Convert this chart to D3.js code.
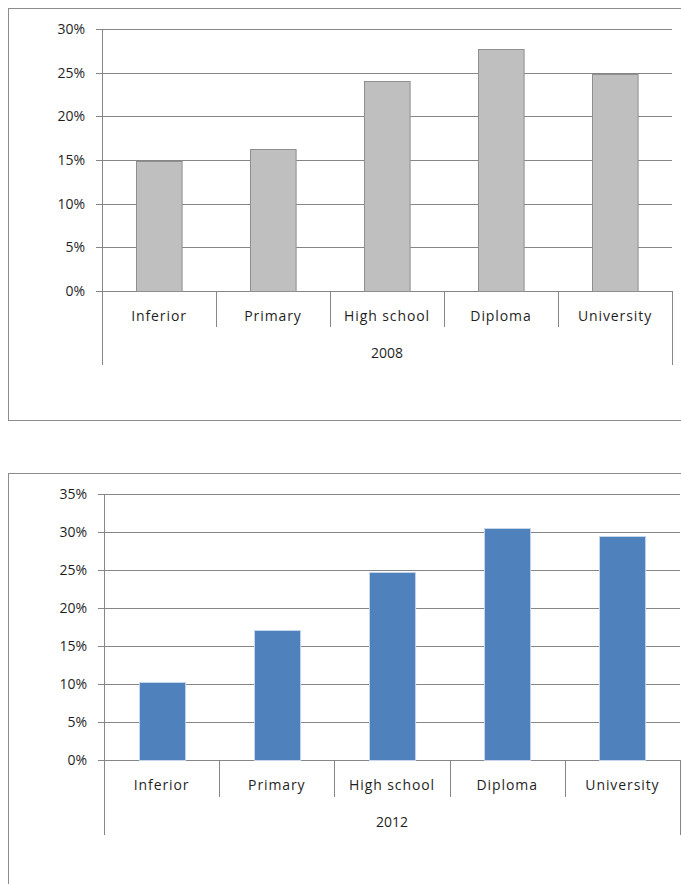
<!DOCTYPE html>
<html>
<head>
<meta charset="utf-8">
<script src="https://cdn.jsdelivr.net/npm/d3@7"></script>
<style>
body { margin: 0; background: #fff; }
text { font-family: "Open Sans", sans-serif; font-size: 14px; fill: #1f1f1f; }
text.xlab { letter-spacing: 0.9px; }
</style>
</head>
<body>
<div id="field"></div>
<script>
var categories = ["Inferior", "Primary", "High school", "Diploma", "University"]
var values2008 = [14.9, 16.3, 24.1, 27.7, 24.9]
var values2012 = [10.3, 17.1, 24.8, 30.5, 29.5]
var ticks2008 = [0, 5, 10, 15, 20, 25, 30]
var ticks2012 = [0, 5, 10, 15, 20, 25, 30, 35]

var width = 681
var height = 884
var svg = d3.select("div#field").append("svg")
           .attr("width", width)
           .attr("height", height)

var gridColor = "#868686"

function drawChart(opt){
	// outer chart border
	svg.append("rect")
	  .attr("x", opt.box[0] + 0.5)
	  .attr("y", opt.box[1] + 0.5)
	  .attr("width", opt.box[2])
	  .attr("height", opt.box[3])
	  .attr("fill", "none")
	  .attr("stroke", "#8c8c8c")

	var x = d3.scaleBand()
	  .domain(categories)
	  .range([opt.left, opt.right])
	  .paddingInner(0.6)
	  .paddingOuter(0.3)
	var xb = d3.scaleBand()
	  .domain(categories)
	  .range([opt.left, opt.right])
	var y = d3.scaleLinear()
	  .domain([0, d3.max(opt.ticks)])
	  .range([opt.bottom, opt.top])

	var g = svg.append("g")

	// gridlines + tick marks
	g.selectAll("line.grid")
	  .data(opt.ticks).enter()
	  .append("line")
	    .attr("x1", opt.left - 6)
	    .attr("x2", opt.right)
	    .attr("y1", d => Math.round(y(d)) + 0.5)
	    .attr("y2", d => Math.round(y(d)) + 0.5)
	    .attr("stroke", gridColor)

	g.selectAll("text.ylab")
	  .data(opt.ticks).enter()
	  .append("text")
	    .attr("x", opt.left - 17)
	    .attr("y", d => y(d))
	    .attr("dy", "0.35em")
	    .attr("text-anchor", "end")
	    .text(d => d + "%")

	// bars
	g.selectAll("rect.bar")
	  .data(opt.values).enter()
	  .append("rect")
	    .attr("x", (d, i) => Math.round(x(categories[i])) + 0.5)
	    .attr("y", d => Math.round(y(d)) + 0.5)
	    .attr("width", x.bandwidth())
	    .attr("height", d => Math.round(y(0)) - Math.round(y(d)))
	    .attr("fill", opt.fill)
	    .attr("stroke", opt.stroke)

	// y axis line
	g.append("line")
	  .attr("x1", opt.left + 0.5).attr("x2", opt.left + 0.5)
	  .attr("y1", opt.top).attr("y2", opt.bottom)
	  .attr("stroke", gridColor)

	// category separators
	var seps = categories.map(c => xb(c)).concat([opt.right])
	g.selectAll("line.sep")
	  .data(seps).enter()
	  .append("line")
	    .attr("x1", d => Math.round(d) + 0.5)
	    .attr("x2", d => Math.round(d) + 0.5)
	    .attr("y1", opt.bottom)
	    .attr("y2", (d, i) => (i == 0 || i == seps.length - 1) ? opt.bottom + opt.outerTick : opt.bottom + opt.innerTick)
	    .attr("stroke", gridColor)

	g.selectAll("text.xlab")
	  .data(categories).enter()
	  .append("text")
	    .classed("xlab", true)
	    .attr("x", d => xb(d) + xb.bandwidth() / 2)
	    .attr("y", opt.bottom + 25)
	    .attr("dy", "0.35em")
	    .attr("text-anchor", "middle")
	    .text(d => d)

	g.append("text")
	  .attr("x", (opt.left + opt.right) / 2)
	  .attr("y", opt.bottom + 62)
	  .attr("dy", "0.35em")
	  .attr("text-anchor", "middle")
	  .text(opt.year)
}

drawChart({
	box: [8, 8, 700, 412],
	left: 102, right: 672, top: 29, bottom: 291,
	ticks: ticks2008, values: values2008,
	fill: "#bfbfbf", stroke: "#8f8f8f",
	innerTick: 36, outerTick: 74,
	year: "2008"
})

drawChart({
	box: [8, 473, 700, 450],
	left: 104, right: 680, top: 494, bottom: 760,
	ticks: ticks2012, values: values2012,
	fill: "#4f81bd", stroke: "#c5d5ea",
	innerTick: 37, outerTick: 75,
	year: "2012"
})
</script>
</body>
</html>
